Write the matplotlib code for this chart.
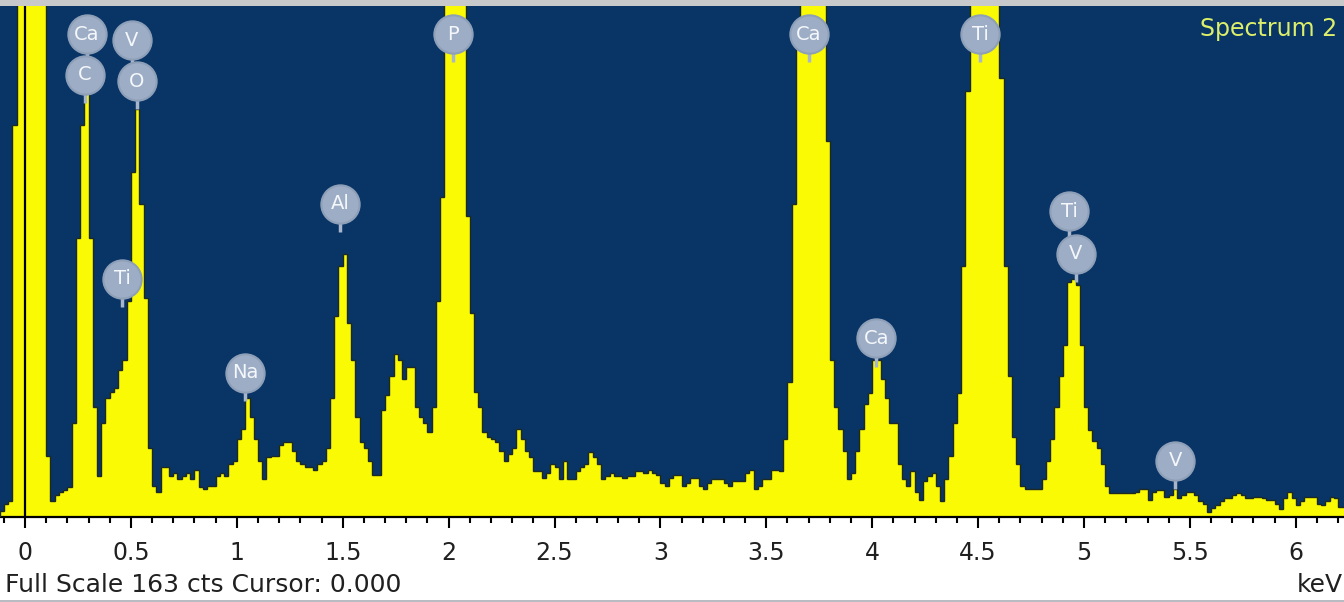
import numpy as np
import matplotlib
matplotlib.use('Agg')
import matplotlib.pyplot as plt
from matplotlib.patches import Rectangle

# EDS spectrum, 20 eV channels starting at -0.12 keV (200 = off scale)
e_start = -0.12
e_step = 0.02
counts = [
    2, 4, 5, 125, 200, 200,
    200, 200, 200, 200, 200, 19.5, 5, 7, 8, 8.5,
    9.5, 30, 89, 125, 136, 89, 35, 13, 30, 38,
    40, 41, 47, 50, 69, 110, 130, 100, 70, 22,
    10, 8, 16, 16, 13, 14, 12, 13, 14, 12,
    15, 9.5, 9, 10, 10, 13, 14,
    13, 17, 18, 25, 28, 38, 32, 25, 18, 12,
    19, 19.5, 19.5, 23, 24, 24, 21, 18, 17, 16,
    16, 15, 17, 18, 22, 38, 64, 80, 84, 62,
    50, 32, 24, 22, 18, 13.5, 13.5, 34, 39, 45,
    52, 50, 44, 48, 48, 35, 32, 30, 27, 35,
    69, 102, 200,
    200, 200, 200, 200, 96, 65, 40, 35, 27, 25.5,
    25, 24, 21, 18, 20, 22, 28, 25, 21, 19,
    14.6, 14.6, 12.5, 14, 17, 16, 12, 18, 12, 12,
    14.6, 16, 17, 20.6, 19, 17, 12, 13, 14, 13,
    13, 12.5, 13, 13, 14.6, 14.6, 14, 15, 14, 13.5, 11, 10, 12.5,
    13.5, 13.5, 10, 11, 12.5, 12.5, 10, 9, 11, 12,
    12, 12, 11, 10, 11.4, 11.4, 11.4, 14, 15, 9,
    10, 12, 12, 15, 15, 14.6, 25, 43, 100, 150,
    200, 200, 200, 200, 200, 200, 120, 50, 35, 28,
    21, 12, 14, 21, 28, 36, 39.5, 50, 50, 44, 38, 30, 30,
    17, 12, 10, 14.6, 8, 5.4, 11.4, 13, 14, 10,
    5, 12, 19.5, 30, 39.5, 80, 136,
    200, 200, 200, 200, 200, 200, 200,
    140, 80, 45, 25.5, 17, 10, 9, 9, 9, 9,
    12, 18, 25, 35, 45, 55, 75, 76, 74, 55,
    35, 27.6, 24.4, 22, 17, 10, 7.6, 7.6, 7.6,
    7.6, 7.6, 7.6, 8, 9, 9, 5.4, 8, 8.7, 8.7,
    6.5, 7, 9, 6, 7, 8, 8, 7, 5, 4,
    1.6, 3, 3.8, 5, 6, 6, 7, 7.6, 7, 6,
    6, 6.5, 6.5, 6, 5.4, 5.4, 4, 2.7, 6, 8,
    6, 3.8, 5, 6.5, 6.5, 6.5, 4, 3.8, 5, 6.5, 6, 3.2, 3.2,
]
edges = e_start + e_step * np.arange(len(counts) + 1)

# element markers
label_names = ['Ca', 'C', 'V', 'O', 'Ti', 'Na', 'Al', 'P', 'Ca', 'Ca', 'Ti', 'Ti', 'V', 'V']
label_kev = [0.293, 0.283, 0.505, 0.529, 0.458, 1.039, 1.487, 2.02, 3.70, 4.02, 4.51, 4.93, 4.96, 5.43]
label_cts = [154, 141, 152, 139, 76, 46, 100, 154, 154, 57, 154, 97.6, 84, 18]

tick_vals = [0, 0.5, 1, 1.5, 2, 2.5, 3, 3.5, 4, 4.5, 5, 5.5, 6]
tick_labels = ['0', '0.5', '1', '1.5', '2', '2.5', '3', '3.5', '4', '4.5', '5', '5.5', '6']
full_scale = 163

navy = '#083466'
yellow = '#fafa05'
W, H = 1344, 602

fig = plt.figure(figsize=(W / 100, H / 100), dpi=100, facecolor='white')
# grey window strip at the top, thin frame line at the bottom
fig.patches.append(Rectangle((0, (H - 6) / H), 1, 6 / H, transform=fig.transFigure,
                             facecolor='#c8c9cb', edgecolor='none'))
fig.patches.append(Rectangle((0, 0), 1, 2 / H, transform=fig.transFigure,
                             facecolor='#b8bcc2', edgecolor='none'))

ax = fig.add_axes([0, (H - 517) / H, 1, 511 / H])
ax.set_facecolor(navy)

ax.stairs(counts, edges, fill=True, color=yellow, zorder=2)
ax.stairs(counts, edges, color='#1d2a22', linewidth=1.0, zorder=3)
ax.axvline(0, color='black', linewidth=1.6, zorder=4)

ax.set_xlim(-25 / 211.8, 1319 / 211.8)
ax.set_ylim(0, full_scale)

for name, x, y in zip(label_names, label_kev, label_cts):
    ax.plot([x, x], [y, y - 9], color='#a8b6cc', linewidth=2.5, zorder=5,
            solid_capstyle='butt')
ax.scatter(label_kev, label_cts, s=760, color='#9dadc5', edgecolors='#8e9fb8',
           linewidths=1.5, zorder=6, clip_on=False)
for name, x, y in zip(label_names, label_kev, label_cts):
    ax.text(x, y, name, ha='center', va='center', color='#f4f7fb',
            fontsize=14, zorder=7)

ax.text(0.995, 0.955, 'Spectrum 2', transform=ax.transAxes, ha='right', va='center',
        color='#dcef6a', fontsize=17, zorder=7)

for s in ['top', 'left', 'right']:
    ax.spines[s].set_visible(False)
ax.spines['bottom'].set_color('black')
ax.spines['bottom'].set_linewidth(1.6)
ax.set_yticks([])
ax.set_xticks(tick_vals)
ax.set_xticklabels(tick_labels)
ax.set_xticks(np.arange(-0.1, 6.25, 0.1), minor=True)
ax.tick_params(axis='x', which='major', direction='out', length=8, width=1.5,
               pad=9, labelsize=17, colors='black', labelcolor='#202020')
ax.tick_params(axis='x', which='minor', direction='out', length=4.5, width=1.5,
               colors='black')

fig.text(5 / W, 1 - 585 / H, 'Full Scale %d cts Cursor: 0.000' % full_scale,
         ha='left', va='center', fontsize=18, color='#202020')
fig.text(1343 / W, 1 - 585 / H, 'keV', ha='right', va='center', fontsize=18,
         color='#202020')

fig.savefig('out.png', dpi=100, facecolor='white')
